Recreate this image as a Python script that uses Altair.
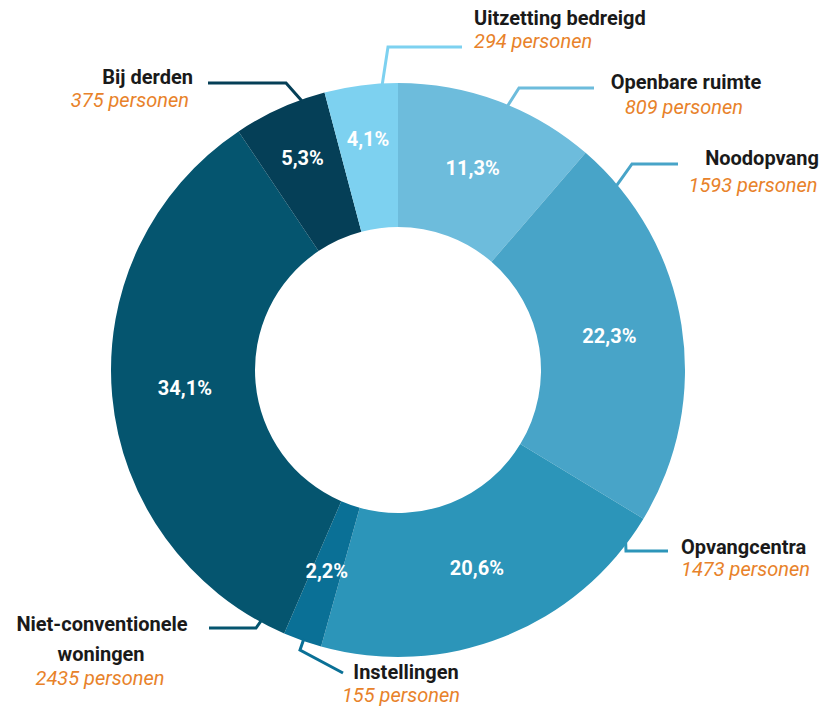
import altair as alt
import pandas as pd
import math

# ---- data ----
categories = ["Openbare ruimte", "Noodopvang", "Opvangcentra", "Instellingen",
              "Niet-conventionele woningen", "Bij derden", "Uitzetting bedreigd"]
persons = [809, 1593, 1473, 155, 2435, 375, 294]
colors = ["#6dbcdc", "#48a4c8", "#2c95b9", "#0a7096", "#05556f", "#053f57", "#7dd1f0"]

total = sum(persons)
pct_labels = [f"{p / total * 100:.1f}".replace(".", ",") + "%" for p in persons]

# ---- layout ----
W, H = 825, 706
CX, CY = 398, 370
R_OUT, R_IN = 287, 143
outer_label_group = [0, 0, 0, 0, 0, 1, 1]  # 1 = percentage label placed a bit further out

df = pd.DataFrame({
    "cat": categories,
    "value": persons,
    "order": list(range(len(categories))),
    "pct_in": [p if g == 0 else "" for p, g in zip(pct_labels, outer_label_group)],
    "pct_out": [p if g == 1 else "" for p, g in zip(pct_labels, outer_label_group)],
})

leaders = {
    "Uitzetting bedreigd": (356.8, (388, 47), 462),
    "Openbare ruimte": (22.5, (519, 88), 594),
    "Noodopvang": (49.9, (632, 164), 678),
    "Opvangcentra": (127.0, (626, 551), 668),
    "Instellingen": (199.3, (300, 650), None),
    "Niet-conventionele woningen": (208.6, (256, 628), 209),
    "Bij derden": (340.4, (286, 83), 208),
}
line_rows = []
for cat, (ang, elbow, endx) in leaders.items():
    a = math.radians(ang)
    sx = CX + (R_OUT - 2) * math.sin(a)
    sy = CY - (R_OUT - 2) * math.cos(a)
    pts = [(sx, sy), elbow]
    if cat == "Instellingen":
        pts.append((343, 673))
    else:
        pts.append((endx, elbow[1]))
    for i, (x, y) in enumerate(pts):
        line_rows.append({"cat": cat, "i": i, "px": x, "py": y})
lines_df = pd.DataFrame(line_rows)

# (category, [(name line, x, y)], (count x, count y), align)
label_layout = [
    ("Uitzetting bedreigd", [("Uitzetting bedreigd", 474, 19)], (474, 42), "left"),
    ("Openbare ruimte", [("Openbare ruimte", 686, 83)], (684, 108), "center"),
    ("Noodopvang", [("Noodopvang", 762, 159)], (753, 186), "center"),
    ("Opvangcentra", [("Opvangcentra", 681, 548)], (681, 570), "left"),
    ("Instellingen", [("Instellingen", 406, 673)], (401, 696), "center"),
    ("Niet-conventionele woningen", [("Niet-conventionele", 102, 625), ("woningen", 101, 655)],
     (100, 679), "center"),
    ("Bij derden", [("Bij derden", 193, 78)], (189, 101), "right"),
]
label_rows = []
for cat, names, (cx_, cy_), align in label_layout:
    n = persons[categories.index(cat)]
    for nm, x, y in names:
        label_rows.append({"t": nm, "px": x, "py": y, "kind": "name", "al": align})
    label_rows.append({"t": f"{n} personen", "px": cx_, "py": cy_, "kind": "count", "al": align})
labels_df = pd.DataFrame(label_rows)

color_scale = alt.Scale(domain=categories, range=colors)
FONT = "Roboto"
FS = 20

base = alt.Chart(df).encode(
    theta=alt.Theta("value:Q", stack=True),
    order=alt.Order("order:Q"),
)
arcs = base.mark_arc(innerRadius=R_IN, outerRadius=R_OUT, x=CX, y=CY).encode(
    color=alt.Color("cat:N", scale=color_scale, legend=None)
)
pct_style = dict(x=CX, y=CY, font=FONT, fontWeight="bold", fontSize=FS, color="white")
pcts_in = base.mark_text(radius=214, **pct_style).encode(text="pct_in:N")
pcts_out = base.mark_text(radius=232, **pct_style).encode(text="pct_out:N")

leader_lines = alt.Chart(lines_df).mark_line(strokeWidth=3).encode(
    x=alt.X("px:Q", scale=None),
    y=alt.Y("py:Q", scale=None),
    detail="cat:N",
    order="i:Q",
    color=alt.Color("cat:N", scale=color_scale, legend=None),
)

layers = [arcs, pcts_in, pcts_out, leader_lines]
for kind in ["name", "count"]:
    for al in ["left", "center", "right"]:
        d = labels_df[(labels_df["kind"] == kind) & (labels_df["al"] == al)].reset_index(drop=True)
        if len(d) == 0:
            continue
        style = dict(fontWeight="bold", color="#1a1a1a") if kind == "name" else \
            dict(fontStyle="italic", color="#e8822a")
        layers.append(
            alt.Chart(d).mark_text(align=al, baseline="middle", font=FONT, fontSize=FS, **style).encode(
                x=alt.X("px:Q", scale=None), y=alt.Y("py:Q", scale=None), text=alt.Text("t:N")
            )
        )

chart = alt.layer(*layers).properties(
    width=W, height=H, padding=0, autosize=alt.AutoSizeParams(type="none"),
    background="white",
).configure_view(stroke=None).resolve_scale(color="shared")

chart.save("out.html", embed_options={"renderer": "svg", "actions": False})
